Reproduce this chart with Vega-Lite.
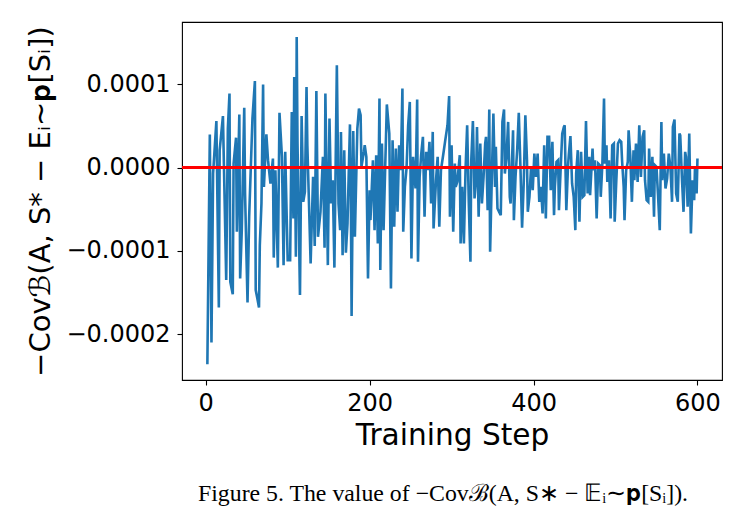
{
  "$schema": "https://vega.github.io/schema/vega-lite/v6.json",
  "width": 540,
  "height": 358,
  "autosize": {"type": "none"},
  "padding": {"left": 182, "top": 22, "right": 25, "bottom": 149},
  "background": "white",
  "config": {
    "font": "DejaVu Sans",
    "view": {"stroke": "#000000", "strokeWidth": 1.1},
    "axis": {"grid": false, "domain": false, "tickColor": "#000000", "tickSize": 5, "tickWidth": 1.1, "labelColor": "#000000", "titleColor": "#000000", "labelFont": "DejaVu Sans", "titleFont": "DejaVu Sans", "titleFontWeight": "normal", "labelFontSize": 24, "titleFontSize": 29.6}
  },
  "data": {"values": [
    {"step":2,"v":-2.36e-4},{"step":5,"v":0.40e-4},{"step":7,"v":-2.10e-4},{"step":9,"v":-0.07e-4},{"step":13,"v":0.56e-4},{"step":16,"v":-1.68e-4},{"step":17,"v":0.21e-4},{"step":21,"v":0.62e-4},{"step":25,"v":-1.35e-4},{"step":27,"v":0.47e-4},{"step":29,"v":0.89e-4},{"step":30,"v":-1.37e-4},{"step":33,"v":-1.52e-4},{"step":34,"v":0.05e-4},{"step":37,"v":0.36e-4},{"step":38,"v":-0.77e-4},{"step":41,"v":0.64e-4},{"step":42,"v":-1.33e-4},{"step":44,"v":-0.75e-4},{"step":47,"v":0.72e-4},{"step":48,"v":-0.31e-4},{"step":51,"v":-1.62e-4},{"step":53,"v":-0.59e-4},{"step":57,"v":0.59e-4},{"step":60,"v":1.04e-4},{"step":61,"v":-1.47e-4},{"step":63,"v":-1.57e-4},{"step":65,"v":-1.68e-4},{"step":66,"v":-0.93e-4},{"step":68,"v":-0.43e-4},{"step":70,"v":1.00e-4},{"step":71,"v":-0.23e-4},{"step":74,"v":0.40e-4},{"step":76,"v":0.09e-4},{"step":79,"v":-0.19e-4},{"step":82,"v":0.11e-4},{"step":83,"v":-1.08e-4},{"step":85,"v":-0.03e-4},{"step":88,"v":-1.20e-4},{"step":90,"v":0.66e-4},{"step":93,"v":0.13e-4},{"step":95,"v":-1.17e-4},{"step":97,"v":0.19e-4},
    {"step":100,"v":-1.11e-4},{"step":103,"v":-1.11e-4},{"step":105,"v":0.67e-4},{"step":107,"v":-0.61e-4},{"step":108,"v":1.09e-4},{"step":110,"v":-1.07e-4},{"step":111,"v":1.57e-4},{"step":112,"v":0.29e-4},{"step":115,"v":-1.53e-4},{"step":117,"v":0.62e-4},{"step":119,"v":-0.41e-4},{"step":121,"v":-0.29e-4},{"step":123,"v":0.97e-4},{"step":124,"v":0.27e-4},{"step":126,"v":-0.43e-4},{"step":128,"v":-1.15e-4},{"step":131,"v":-0.11e-4},{"step":133,"v":-0.94e-4},{"step":135,"v":0.92e-4},{"step":137,"v":-0.83e-4},{"step":140,"v":-0.53e-4},{"step":143,"v":0.13e-4},{"step":145,"v":-0.96e-4},{"step":146,"v":0.89e-4},{"step":149,"v":-1.17e-4},{"step":151,"v":0.59e-4},{"step":153,"v":-0.43e-4},{"step":155,"v":-0.15e-4},{"step":157,"v":-1.20e-4},{"step":160,"v":1.23e-4},{"step":162,"v":-0.43e-4},{"step":164,"v":-0.75e-4},{"step":165,"v":0.43e-4},{"step":167,"v":-1.05e-4},{"step":169,"v":0.21e-4},{"step":171,"v":-1.02e-4},{"step":173,"v":-0.67e-4},{"step":176,"v":0.52e-4},{"step":177,"v":-0.29e-4},{"step":178,"v":-1.78e-4},{"step":180,"v":0.44e-4},{"step":182,"v":-0.83e-4},{"step":185,"v":0.47e-4},{"step":187,"v":0.71e-4},{"step":189,"v":0.63e-4},{"step":190,"v":0.01e-4},{"step":193,"v":0.19e-4},{"step":194,"v":0.27e-4},{"step":196,"v":0.13e-4},{"step":198,"v":-1.33e-4},{"step":200,"v":-0.27e-4},{"step":201,"v":-0.63e-4},
    {"step":204,"v":0.09e-4},{"step":206,"v":-0.75e-4},{"step":208,"v":0.15e-4},{"step":210,"v":-0.91e-4},{"step":212,"v":0.83e-4},{"step":213,"v":-1.23e-4},{"step":215,"v":0.29e-4},{"step":217,"v":-0.75e-4},{"step":219,"v":0.01e-4},{"step":221,"v":0.76e-4},{"step":224,"v":0.41e-4},{"step":226,"v":-1.45e-4},{"step":228,"v":0.33e-4},{"step":230,"v":-0.71e-4},{"step":232,"v":0.23e-4},{"step":234,"v":-0.53e-4},{"step":236,"v":0.27e-4},{"step":238,"v":-0.03e-4},{"step":240,"v":0.95e-4},{"step":241,"v":-0.77e-4},{"step":243,"v":-0.23e-4},{"step":245,"v":-0.01e-4},{"step":247,"v":0.51e-4},{"step":249,"v":0.79e-4},{"step":251,"v":-1.09e-4},{"step":253,"v":0.13e-4},{"step":256,"v":-0.25e-4},{"step":258,"v":0.82e-4},{"step":259,"v":-1.13e-4},{"step":261,"v":-0.11e-4},{"step":263,"v":0.17e-4},{"step":265,"v":0.37e-4},{"step":267,"v":-0.59e-4},{"step":269,"v":0.19e-4},{"step":271,"v":-0.03e-4},{"step":273,"v":0.31e-4},{"step":275,"v":-0.43e-4},{"step":277,"v":0.43e-4},{"step":278,"v":-0.73e-4},{"step":281,"v":-0.15e-4},{"step":283,"v":0.13e-4},{"step":285,"v":-0.71e-4},{"step":287,"v":-0.03e-4},{"step":290,"v":0.17e-4},{"step":292,"v":0.31e-4},{"step":295,"v":0.51e-4},{"step":297,"v":0.86e-4},{"step":298,"v":-0.59e-4},{"step":300,"v":0.27e-4},{"step":302,"v":-0.77e-4},{"step":304,"v":0.05e-4},
    {"step":305,"v":-0.23e-4},{"step":307,"v":-0.17e-4},{"step":310,"v":0.15e-4},{"step":311,"v":-0.91e-4},{"step":313,"v":-0.23e-4},{"step":315,"v":-0.91e-4},{"step":317,"v":-0.03e-4},{"step":319,"v":0.51e-4},{"step":321,"v":-0.43e-4},{"step":323,"v":-1.13e-4},{"step":324,"v":0.09e-4},{"step":326,"v":0.56e-4},{"step":328,"v":-0.37e-4},{"step":330,"v":-0.11e-4},{"step":331,"v":0.49e-4},{"step":333,"v":-0.59e-4},{"step":335,"v":0.29e-4},{"step":337,"v":-0.43e-4},{"step":339,"v":-0.11e-4},{"step":341,"v":0.29e-4},{"step":342,"v":0.37e-4},{"step":344,"v":-0.51e-4},{"step":346,"v":0.70e-4},{"step":347,"v":-1.01e-4},{"step":349,"v":-0.15e-4},{"step":351,"v":0.65e-4},{"step":353,"v":-0.23e-4},{"step":354,"v":0.25e-4},{"step":356,"v":-0.49e-4},{"step":358,"v":-0.53e-4},{"step":360,"v":-0.57e-4},{"step":362,"v":0.55e-4},{"step":364,"v":0.70e-4},{"step":365,"v":-0.07e-4},{"step":367,"v":0.13e-4},{"step":369,"v":0.55e-4},{"step":371,"v":-0.35e-4},{"step":372,"v":-0.43e-4},{"step":375,"v":0.45e-4},{"step":376,"v":-0.63e-4},{"step":378,"v":-0.11e-4},{"step":380,"v":0.21e-4},{"step":382,"v":0.66e-4},{"step":384,"v":0.01e-4},{"step":386,"v":-0.72e-4},{"step":388,"v":-0.19e-4},{"step":390,"v":0.63e-4},{"step":392,"v":0.09e-4},{"step":393,"v":-0.53e-4},{"step":395,"v":-0.35e-4},{"step":397,"v":0.01e-4},{"step":399,"v":-0.27e-4},{"step":401,"v":0.17e-4},{"step":403,"v":-0.11e-4},{"step":405,"v":0.17e-4},{"step":407,"v":-0.41e-4},
    {"step":409,"v":-0.23e-4},{"step":411,"v":-0.55e-4},{"step":413,"v":0.27e-4},{"step":415,"v":-0.61e-4},{"step":417,"v":0.37e-4},{"step":419,"v":0.37e-4},{"step":421,"v":-0.27e-4},{"step":423,"v":0.31e-4},{"step":425,"v":-0.57e-4},{"step":426,"v":-0.23e-4},{"step":428,"v":0.07e-4},{"step":430,"v":0.09e-4},{"step":431,"v":-0.51e-4},{"step":433,"v":-0.03e-4},{"step":435,"v":0.41e-4},{"step":437,"v":0.49e-4},{"step":438,"v":0.51e-4},{"step":440,"v":-0.51e-4},{"step":442,"v":0.01e-4},{"step":443,"v":0.15e-4},{"step":445,"v":0.38e-4},{"step":447,"v":-0.19e-4},{"step":449,"v":-0.35e-4},{"step":451,"v":-0.75e-4},{"step":452,"v":-0.07e-4},{"step":454,"v":0.21e-4},{"step":456,"v":-0.65e-4},{"step":458,"v":0.19e-4},{"step":460,"v":-0.35e-4},{"step":462,"v":-0.33e-4},{"step":464,"v":0.56e-4},{"step":466,"v":-0.31e-4},{"step":468,"v":0.13e-4},{"step":469,"v":-0.33e-4},{"step":472,"v":0.23e-4},{"step":473,"v":-0.03e-4},{"step":475,"v":0.09e-4},{"step":477,"v":-0.61e-4},{"step":479,"v":0.05e-4},{"step":481,"v":0.03e-4},{"step":482,"v":-0.35e-4},{"step":484,"v":0.05e-4},{"step":486,"v":0.83e-4},{"step":487,"v":0.05e-4},{"step":489,"v":0.27e-4},{"step":490,"v":-0.17e-4},{"step":492,"v":0.09e-4},{"step":494,"v":-0.61e-4},{"step":496,"v":0.27e-4},{"step":498,"v":0.29e-4},{"step":499,"v":-0.65e-4},{"step":501,"v":-0.15e-4},{"step":503,"v":0.29e-4},{"step":505,"v":0.33e-4},{"step":507,"v":0.31e-4},
    {"step":508,"v":0.09e-4},{"step":510,"v":-0.23e-4},{"step":511,"v":-0.63e-4},{"step":513,"v":-0.03e-4},{"step":515,"v":0.07e-4},{"step":516,"v":0.45e-4},{"step":518,"v":0.15e-4},{"step":520,"v":-0.41e-4},{"step":522,"v":0.21e-4},{"step":523,"v":-0.15e-4},{"step":525,"v":0.29e-4},{"step":527,"v":-0.17e-4},{"step":529,"v":0.51e-4},{"step":531,"v":-0.11e-4},{"step":533,"v":0.37e-4},{"step":535,"v":0.45e-4},{"step":536,"v":-0.15e-4},{"step":538,"v":-0.39e-4},{"step":540,"v":-0.41e-4},{"step":541,"v":0.23e-4},{"step":543,"v":-0.35e-4},{"step":545,"v":0.13e-4},{"step":547,"v":-0.59e-4},{"step":548,"v":0.03e-4},{"step":550,"v":0.01e-4},{"step":552,"v":-0.35e-4},{"step":554,"v":-0.75e-4},{"step":556,"v":0.55e-4},{"step":557,"v":-0.15e-4},{"step":559,"v":0.17e-4},{"step":561,"v":-0.25e-4},{"step":563,"v":-0.13e-4},{"step":565,"v":0.17e-4},{"step":567,"v":0.01e-4},{"step":569,"v":-0.41e-4},{"step":570,"v":0.49e-4},{"step":572,"v":0.58e-4},{"step":574,"v":-0.31e-4},{"step":576,"v":-0.41e-4},{"step":578,"v":0.41e-4},{"step":579,"v":0.39e-4},{"step":581,"v":-0.11e-4},{"step":583,"v":-0.53e-4},{"step":585,"v":0.19e-4},{"step":586,"v":0.13e-4},{"step":588,"v":-0.47e-4},{"step":590,"v":0.41e-4},{"step":592,"v":-0.79e-4},{"step":594,"v":-0.15e-4},{"step":596,"v":-0.39e-4},{"step":597,"v":0.01e-4},{"step":599,"v":-0.31e-4},{"step":600,"v":0.11e-4}
  ]},
  "layer": [
    {
      "mark": {"type": "line", "color": "#1f77b4", "strokeWidth": 2.6, "clip": true},
      "encoding": {
        "x": {"field": "step", "type": "quantitative", "scale": {"domain": [-28.95, 629.95], "nice": false, "zero": false},
          "axis": {"title": "Training Step", "values": [0, 200, 400, 600], "format": "d", "labelPadding": 6, "titlePadding": 6}},
        "y": {"field": "v", "type": "quantitative", "scale": {"domain": [-0.000255, 0.000175], "nice": false, "zero": false},
          "axis": {"title": "−Covℬ(A, S* − Eᵢ∼𝐩[Sᵢ])", "titleFontSize": 29, "values": [-0.0002, -0.0001, 0, 0.0001], "format": ".4f", "labelPadding": 7, "titlePadding": 10}}
      }
    },
    {
      "mark": {"type": "rule", "color": "#ff0000", "strokeWidth": 2.4},
      "encoding": {"y": {"datum": 0}}
    }
  ],
  "title": {"text": "Figure 5. The value of −Covℬ(A, S∗ − 𝔼ᵢ∼𝐩[Sᵢ]).", "orient": "bottom", "anchor": "middle", "font": "Liberation Serif", "fontSize": 23.8, "fontWeight": "normal", "color": "#000000", "offset": 32, "dx": -9}
}
